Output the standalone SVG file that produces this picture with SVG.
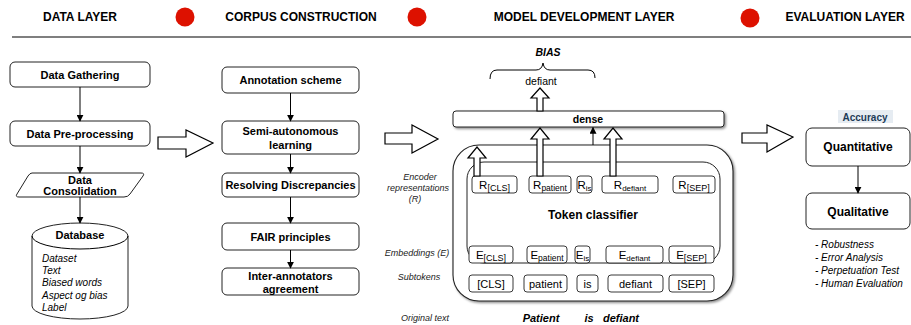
<svg xmlns="http://www.w3.org/2000/svg" width="911" height="325" viewBox="0 0 911 325">
<defs>
<style>
text{font-family:"Liberation Sans",Arial,sans-serif;fill:#000}
.h{font-size:12px;font-weight:bold;text-anchor:middle}
.b{font-size:11px;font-weight:bold;text-anchor:middle}
.box{fill:#fff;stroke:#222;stroke-width:1}
.tok{fill:#fff;stroke:#222;stroke-width:0.9}
.t{font-size:11px;text-anchor:middle}
.s{font-size:9px}
.lbl{font-size:9px;font-style:italic;text-anchor:middle;fill:#222}
.it{font-size:10px;font-style:italic}
.conn{stroke:#000;stroke-width:1;fill:none}
.hollow{fill:#fff;stroke:#000;stroke-width:1.2;stroke-linejoin:miter}
.dot{fill:#dd1100}
</style>
<filter id="sh" x="-10%" y="-10%" width="130%" height="140%">
<feDropShadow dx="1.5" dy="1.5" stdDeviation="0.8" flood-color="#000" flood-opacity="0.45"/>
</filter>
<marker id="ah" viewBox="0 0 10 10" refX="9" refY="5" markerWidth="7" markerHeight="7" orient="auto" markerUnits="userSpaceOnUse">
<path d="M0,0 L10,5 L0,10 Z" fill="#000"/>
</marker>
</defs>

<!-- header -->
<g id="header">
<line x1="12" y1="37" x2="911" y2="37" stroke="#555" stroke-width="1.5"/>
<text class="h" x="80" y="21">DATA LAYER</text>
<circle class="dot" cx="185" cy="17" r="9.5"/>
<text class="h" x="301" y="21">CORPUS CONSTRUCTION</text>
<circle class="dot" cx="417" cy="17" r="9.5"/>
<text class="h" x="584" y="21">MODEL DEVELOPMENT LAYER</text>
<circle class="dot" cx="750" cy="18" r="9.5"/>
<text class="h" x="845" y="21">EVALUATION LAYER</text>
</g>

<!-- data layer -->
<g id="data-gathering">
<rect class="box" x="10" y="62" width="140" height="25" rx="5"/>
<text class="b" x="80" y="78.5">Data Gathering</text>
</g>
<g id="data-preprocessing">
<rect class="box" x="10" y="121" width="140" height="25" rx="5"/>
<text class="b" x="80" y="137.5">Data Pre-processing</text>
</g>
<g id="data-consolidation">
<path class="box" d="M32,173 L141,173 Q145,173 143,176 L130,194 Q128,197 124,197 L19,197 Q15,197 17,194 L28,176 Q30,173 32,173 Z"/>
<text class="b" x="80" y="183.5">Data</text>
<text class="b" x="80" y="195">Consolidation</text>
</g>
<g id="database">
<path class="box" d="M32,236 A48,13 0 0 1 128,236 L128,306 A48,13 0 0 1 32,306 Z"/>
<path class="conn" d="M32,236 A48,13 0 0 0 128,236" stroke="#222"/>
<text class="b" x="80" y="238.5">Database</text>
<text class="it" x="42" y="262">Dataset</text>
<text class="it" x="42" y="274">Text</text>
<text class="it" x="42" y="286">Biased words</text>
<text class="it" x="42" y="299">Aspect og bias</text>
<text class="it" x="42" y="311">Label</text>
</g>

<!-- corpus construction -->
<g id="annotation-scheme">
<rect class="box" x="222" y="67" width="137" height="26" rx="5"/>
<text class="b" x="290.5" y="84">Annotation scheme</text>
</g>
<g id="semi-autonomous">
<rect class="box" x="222" y="121" width="137" height="33" rx="5"/>
<text class="b" x="290.5" y="135">Semi-autonomous</text>
<text class="b" x="290.5" y="148.5">learning</text>
</g>
<g id="resolving">
<rect class="box" x="222" y="173" width="137" height="24" rx="5"/>
<text class="b" x="290.5" y="189">Resolving Discrepancies</text>
</g>
<g id="fair">
<rect class="box" x="222" y="223" width="137" height="27" rx="5"/>
<text class="b" x="290.5" y="240.5">FAIR principles</text>
</g>
<g id="inter-annotators">
<rect class="box" x="222" y="268" width="137" height="27" rx="5"/>
<text class="b" x="290.5" y="280">Inter-annotators</text>
<text class="b" x="290.5" y="292.5">agreement</text>
</g>

<!-- model development -->
<g id="bias">
<text x="548" y="56" style="font-size:10.5px;font-weight:bold;font-style:italic;text-anchor:middle">BIAS</text>
<path class="conn" d="M490,79 Q490,70 497,70 L536,70 Q542,70 543,63 Q544,70 550,70 L588,70 Q595,70 595,78"/>
<text class="t" x="541" y="85" style="font-size:10.5px">defiant</text>
</g>

<g id="token-classifier">
<rect x="453" y="145" width="280" height="156" rx="26" fill="#fff" stroke="#222" stroke-width="1.1" filter="url(#sh)"/>
<rect x="467" y="162" width="253" height="101" rx="17" fill="#fff" stroke="#222" stroke-width="1"/>
<text x="593" y="219" style="font-size:12px;font-weight:bold;text-anchor:middle">Token classifier</text>
</g>

<g id="dense">
<rect x="453" y="111" width="271" height="16" rx="3" fill="#fff" stroke="#222" stroke-width="1" filter="url(#sh)"/>
<text class="b" x="588" y="122.5" style="font-size:10.5px">dense</text>
</g>

<g id="r-row">
<g id="r-cls"><rect class="tok" x="472" y="176" width="45" height="17" rx="3"/><text class="t" x="494.5" y="188.5" style="font-size:11.5px">R<tspan class="s" dy="2.5">[CLS]</tspan></text></g>
<g id="r-patient"><rect class="tok" x="529" y="176" width="42" height="17" rx="3"/><text class="t" x="550" y="188.5" style="font-size:11.5px">R<tspan class="s" dy="2.5" style="font-size:8.5px">patient</tspan></text></g>
<g id="r-is"><rect class="tok" x="577" y="176" width="15" height="17" rx="3"/><text class="t" x="584.5" y="188.5" style="font-size:11.5px">R<tspan class="s" dy="2.5" style="font-size:8px">is</tspan></text></g>
<g id="r-defiant"><rect class="tok" x="602" y="176" width="56" height="17" rx="3"/><text class="t" x="630" y="188.5" style="font-size:11.5px">R<tspan class="s" dy="2.5" style="font-size:8px">defiant</tspan></text></g>
<g id="r-sep"><rect class="tok" x="673" y="176" width="42" height="17" rx="3"/><text class="t" x="694" y="188.5" style="font-size:11.5px">R<tspan class="s" dy="2.5">[SEP]</tspan></text></g>
</g>

<g id="e-row">
<g id="e-cls"><rect class="tok" x="469" y="246" width="44" height="17" rx="3"/><text class="t" x="491" y="258.5" style="font-size:11.5px">E<tspan class="s" dy="2.5">[CLS]</tspan></text></g>
<g id="e-patient"><rect class="tok" x="527" y="246" width="40" height="17" rx="3"/><text class="t" x="547" y="258.5" style="font-size:11.5px">E<tspan class="s" dy="2.5" style="font-size:8.5px">patient</tspan></text></g>
<g id="e-is"><rect class="tok" x="575" y="246" width="15" height="17" rx="3"/><text class="t" x="582.5" y="258.5" style="font-size:11.5px">E<tspan class="s" dy="2.5" style="font-size:8px">is</tspan></text></g>
<g id="e-defiant"><rect class="tok" x="606" y="246" width="57" height="17" rx="3"/><text class="t" x="634.5" y="258.5" style="font-size:11.5px">E<tspan class="s" dy="2.5" style="font-size:8px">defiant</tspan></text></g>
<g id="e-sep"><rect class="tok" x="669" y="246" width="45" height="17" rx="3"/><text class="t" x="691.5" y="258.5" style="font-size:11.5px">E<tspan class="s" dy="2.5">[SEP]</tspan></text></g>
</g>

<g id="subtoken-row">
<g id="s-cls"><rect class="tok" x="469" y="275" width="44" height="17" rx="3"/><text class="t" x="491" y="288">[CLS]</text></g>
<g id="s-patient"><rect class="tok" x="524" y="275" width="43" height="17" rx="3"/><text class="t" x="545.5" y="288">patient</text></g>
<g id="s-is"><rect class="tok" x="577" y="275" width="21" height="17" rx="3"/><text class="t" x="587.5" y="288">is</text></g>
<g id="s-defiant"><rect class="tok" x="608" y="275" width="55" height="17" rx="3"/><text class="t" x="635.5" y="288">defiant</text></g>
<g id="s-sep"><rect class="tok" x="669" y="275" width="45" height="17" rx="3"/><text class="t" x="691.5" y="288">[SEP]</text></g>
</g>

<g id="original-text">
<text x="541" y="322" style="font-size:11px;font-weight:bold;font-style:italic;text-anchor:middle">Patient</text>
<text x="589" y="322" style="font-size:11px;font-weight:bold;font-style:italic;text-anchor:middle">is</text>
<text x="621" y="322" style="font-size:11px;font-weight:bold;font-style:italic;text-anchor:middle">defiant</text>
</g>

<g id="side-labels">
<text class="lbl" x="420" y="180">Encoder</text>
<text class="lbl" x="418" y="191">representations</text>
<text class="lbl" x="415" y="202">(R)</text>
<text class="lbl" x="417" y="256">Embeddings (E)</text>
<text class="lbl" x="419" y="280">Subtokens</text>
<text class="lbl" x="425" y="321">Original text</text>
</g>

<!-- evaluation -->
<g id="accuracy">
<rect x="838" y="110" width="55" height="13" fill="#e6ecf2"/>
<text x="865" y="120.5" style="font-size:10px;font-weight:bold;text-anchor:middle;fill:#1d3b57">Accuracy</text>
</g>
<g id="quantitative">
<rect class="box" x="806" y="128" width="104" height="38" rx="6"/>
<text x="858" y="151" style="font-size:12px;font-weight:bold;text-anchor:middle">Quantitative</text>
</g>
<g id="qualitative">
<rect class="box" x="806" y="193" width="104" height="36" rx="6"/>
<text x="858" y="215.5" style="font-size:12px;font-weight:bold;text-anchor:middle">Qualitative</text>
</g>
<g id="eval-list">
<text class="it" x="815" y="248">- Robustness</text>
<text class="it" x="815" y="261">- Error Analysis</text>
<text class="it" x="815" y="274">- Perpetuation Test</text>
<text class="it" x="815" y="287">- Human Evaluation</text>
</g>

<!-- connectors -->
<g id="connectors">
<line class="conn" x1="80" y1="87" x2="80" y2="121" marker-end="url(#ah)"/>
<line class="conn" x1="80" y1="146" x2="80" y2="173" marker-end="url(#ah)"/>
<line class="conn" x1="80" y1="197" x2="80" y2="223" marker-end="url(#ah)"/>
<line class="conn" x1="290.5" y1="93" x2="290.5" y2="121" marker-end="url(#ah)"/>
<line class="conn" x1="290.5" y1="154" x2="290.5" y2="173" marker-end="url(#ah)"/>
<line class="conn" x1="290.5" y1="197" x2="290.5" y2="223" marker-end="url(#ah)"/>
<line class="conn" x1="290.5" y1="250" x2="290.5" y2="268" marker-end="url(#ah)"/>
<line class="conn" x1="858" y1="166" x2="858" y2="193" marker-end="url(#ah)"/>
<line class="conn" x1="593" y1="145" x2="593" y2="127.5" marker-end="url(#ah)"/>
<!-- big hollow arrows -->
<polygon class="hollow" points="158,137 186,137 186,130 213,143 186,157 186,149 158,149"/>
<polygon class="hollow" points="385,133 412,133 412,125 438,139 412,153 412,144 385,144"/>
<polygon class="hollow" points="742,133 767,133 767,125 793,137 767,152 767,143 742,143"/>
<!-- hollow up arrows -->
<polygon class="hollow" points="537,111 537,98 531,98 540,88 549,98 543,98 543,111"/>
<polygon class="hollow" points="474,176 474,158 468,158 477,147 486,158 480,158 480,176"/>
<polygon class="hollow" points="537,176 537,139 531,139 540,128 549,139 543,139 543,176"/>
<polygon class="hollow" points="610,176 610,139 604,139 613,128 622,139 616,139 616,176"/>
</g>
</svg>
